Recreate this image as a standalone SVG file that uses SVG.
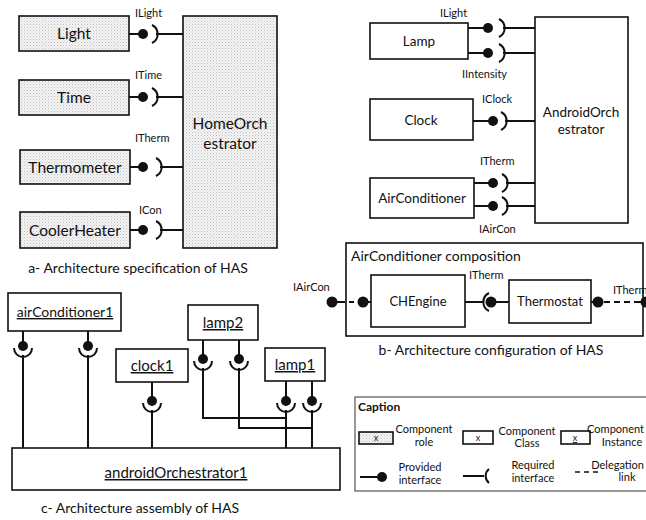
<svg xmlns="http://www.w3.org/2000/svg" width="646" height="520" viewBox="0 0 646 520">
  <defs>
    <pattern id="dots" width="3" height="3" patternUnits="userSpaceOnUse">
      <rect width="3" height="3" fill="#f4f4f4"/>
      <rect width="1" height="1" fill="#bdbdbd"/>
      <rect x="1.5" y="1.5" width="1" height="1" fill="#d0d0d0"/>
    </pattern>
  </defs>
  <style>
    text { font-family: Lato, "Open Sans", "Liberation Sans", sans-serif; fill: #111; }
    .box { fill: #fff; stroke: #111; stroke-width: 1.6; }
    .role { fill: url(#dots); stroke: #111; stroke-width: 1.6; }
    .ln { fill: none; stroke: #111; stroke-width: 2; }
    .dash { fill: none; stroke: #111; stroke-width: 2; stroke-dasharray: 6 4; }
    .ball { fill: #111; }
    .sock { fill: none; stroke: #111; stroke-width: 2; }
    .lbl { font-size: 11px; }
    .name { font-size: 15.5px; text-anchor: middle; }
    .nameb { font-size: 13.5px; text-anchor: middle; }
    .namec { font-size: 15px; text-anchor: middle; }
    .cap { font-size: 14px; text-anchor: middle; }
    .small { font-size: 11px; text-anchor: middle; }
    .u { text-decoration: underline; }
  </style>

  <!-- ===== a: specification ===== -->
  <g id="a-light">
    <rect class="role" x="19" y="16" width="110" height="35"/>
    <text class="name" x="74" y="39">Light</text>
  </g>
  <g id="a-time">
    <rect class="role" x="19" y="80" width="110" height="35"/>
    <text class="name" x="74" y="103">Time</text>
  </g>
  <g id="a-thermometer">
    <rect class="role" x="20" y="150" width="110" height="34"/>
    <text class="name" x="75" y="173">Thermometer</text>
  </g>
  <g id="a-coolerheater">
    <rect class="role" x="20" y="212" width="110" height="36"/>
    <text class="name" x="75" y="236">CoolerHeater</text>
  </g>
  <g id="a-homeorchestrator">
    <rect class="role" x="183" y="16" width="94" height="232"/>
    <text class="name" x="230" y="129">HomeOrch</text>
    <text class="name" x="230" y="149">estrator</text>
  </g>
  <g id="a-connectors">
    <path class="ln" d="M129,34H143 M156,34H183"/>
    <circle class="ball" cx="143" cy="34" r="5"/>
    <path class="sock" d="M152,25A10,10 0 0 1 152,43"/>
    <path class="ln" d="M129,97H143 M156,97H183"/>
    <circle class="ball" cx="143" cy="97" r="5"/>
    <path class="sock" d="M152,88A10,10 0 0 1 152,106"/>
    <path class="ln" d="M130,167H143 M160,167H183"/>
    <circle class="ball" cx="143" cy="167" r="5"/>
    <path class="sock" d="M156,158A10,10 0 0 1 156,176"/>
    <path class="ln" d="M130,230H143 M160,230H183"/>
    <circle class="ball" cx="143" cy="230" r="5"/>
    <path class="sock" d="M156,221A10,10 0 0 1 156,239"/>
  </g>
  <text class="lbl" x="135" y="17">ILight</text>
  <text class="lbl" x="135" y="79">ITime</text>
  <text class="lbl" x="135" y="142">ITherm</text>
  <text class="lbl" x="139" y="214">ICon</text>
  <text class="cap" x="138" y="273">a- Architecture specification of HAS</text>

  <!-- ===== b: configuration ===== -->
  <g id="b-lamp">
    <rect class="box" x="370" y="23" width="98" height="36"/>
    <text class="nameb" x="419" y="46">Lamp</text>
  </g>
  <g id="b-clock">
    <rect class="box" x="370" y="99" width="103" height="41"/>
    <text class="nameb" x="421" y="125">Clock</text>
  </g>
  <g id="b-airconditioner">
    <rect class="box" x="370" y="178" width="104" height="40"/>
    <text class="nameb" x="422" y="203">AirConditioner</text>
  </g>
  <g id="b-androidorchestrator">
    <rect class="box" x="535" y="17" width="93" height="206"/>
    <text class="nameb" x="581" y="117">AndroidOrch</text>
    <text class="nameb" x="581" y="134">estrator</text>
  </g>
  <g id="b-connectors">
    <path class="ln" d="M468,28H488 M503,28H535"/>
    <circle class="ball" cx="488" cy="28" r="5"/>
    <path class="sock" d="M499,19A10,10 0 0 1 499,37"/>
    <path class="ln" d="M468,53H488 M503,53H535"/>
    <circle class="ball" cx="488" cy="53" r="5"/>
    <path class="sock" d="M499,44A10,10 0 0 1 499,62"/>
    <path class="ln" d="M473,121H493 M505,121H535"/>
    <circle class="ball" cx="493" cy="121" r="5"/>
    <path class="sock" d="M501,112A10,10 0 0 1 501,130"/>
    <path class="ln" d="M474,183H493 M506,183H535"/>
    <circle class="ball" cx="493" cy="183" r="5"/>
    <path class="sock" d="M502,174A10,10 0 0 1 502,192"/>
    <path class="ln" d="M474,206H493 M506,206H535"/>
    <circle class="ball" cx="493" cy="206" r="5"/>
    <path class="sock" d="M502,197A10,10 0 0 1 502,215"/>
  </g>
  <text class="lbl" x="440" y="17">ILight</text>
  <text class="lbl" x="462" y="78">IIntensity</text>
  <text class="lbl" x="482" y="103">IClock</text>
  <text class="lbl" x="480" y="165">ITherm</text>
  <text class="lbl" x="479" y="233">IAirCon</text>

  <g id="b-composition">
    <rect class="box" x="346" y="243" width="297" height="93"/>
    <text x="351" y="261" style="font-size:14px">AirConditioner composition</text>
  </g>
  <g id="b-chengine">
    <rect class="box" x="371" y="275" width="94" height="52"/>
    <text x="418" y="306" style="font-size:13px;text-anchor:middle">CHEngine</text>
  </g>
  <g id="b-thermostat">
    <rect class="box" x="509" y="280" width="82" height="43"/>
    <text x="550" y="306" style="font-size:13px;text-anchor:middle">Thermostat</text>
  </g>
  <g id="b-composition-connectors">
    <path class="ln" d="M332,302H345 M358,302H371"/>
    <path class="ln" d="M349,302H354"/>
    <circle class="ball" cx="332" cy="302" r="5.5"/>
    <circle class="ball" cx="363" cy="302" r="5.5"/>
    <path class="ln" d="M465,302H484 M491,302H509"/>
    <path class="sock" d="M489,293A10,10 0 0 0 489,311"/>
    <circle class="ball" cx="491" cy="302" r="5.5"/>
    <path class="ln" d="M591,302H598"/>
    <circle class="ball" cx="598" cy="302" r="5.5"/>
    <path class="dash" d="M604,302H632"/>
    <path class="ln" d="M634,302H645"/>
    <circle class="ball" cx="646" cy="302" r="5.5"/>
  </g>
  <text class="lbl" x="293" y="291">IAirCon</text>
  <text class="lbl" x="469" y="279">ITherm</text>
  <text class="lbl" x="613" y="294">ITherm</text>
  <text class="cap" x="491" y="355">b- Architecture configuration of HAS</text>

  <!-- ===== c: assembly ===== -->
  <g id="c-airconditioner1">
    <rect class="box" x="8" y="293" width="113" height="38"/>
    <text class="namec u" x="65" y="317" style="font-size:14px">airConditioner1</text>
  </g>
  <g id="c-clock1">
    <rect class="box" x="116" y="349" width="72" height="33"/>
    <text class="namec u" x="152" y="371">clock1</text>
  </g>
  <g id="c-lamp2">
    <rect class="box" x="188" y="305" width="70" height="35"/>
    <text class="namec u" x="223" y="328">lamp2</text>
  </g>
  <g id="c-lamp1">
    <rect class="box" x="265" y="348" width="60" height="33"/>
    <text class="namec u" x="295" y="370">lamp1</text>
  </g>
  <g id="c-androidorchestrator1">
    <rect class="box" x="12" y="448" width="328" height="42"/>
    <text class="namec u" x="176" y="478">androidOrchestrator1</text>
  </g>
  <g id="c-connectors">
    <path class="ln" d="M23,331V347 M23,355V448"/>
    <circle class="ball" cx="23" cy="346" r="5"/>
    <path class="sock" d="M14,348A9,9 0 0 0 32,348"/>
    <path class="ln" d="M88,331V347 M88,355V448"/>
    <circle class="ball" cx="88" cy="346" r="5"/>
    <path class="sock" d="M79,348A9,9 0 0 0 97,348"/>
    <path class="ln" d="M152,382V402 M152,410V448"/>
    <circle class="ball" cx="152" cy="401" r="5"/>
    <path class="sock" d="M143,403A9,9 0 0 0 161,403"/>
    <path class="ln" d="M203,340V360 M203,368V418H286"/>
    <circle class="ball" cx="203" cy="359" r="5"/>
    <path class="sock" d="M194,361A9,9 0 0 0 212,361"/>
    <path class="ln" d="M239,340V360 M239,368V428H312"/>
    <circle class="ball" cx="239" cy="359" r="5"/>
    <path class="sock" d="M230,361A9,9 0 0 0 248,361"/>
    <path class="ln" d="M286,381V402 M286,410V448"/>
    <circle class="ball" cx="286" cy="401" r="5"/>
    <path class="sock" d="M277,403A9,9 0 0 0 295,403"/>
    <path class="ln" d="M312,381V402 M312,410V448"/>
    <circle class="ball" cx="312" cy="401" r="5"/>
    <path class="sock" d="M303,403A9,9 0 0 0 321,403"/>
  </g>
  <text class="cap" x="140" y="513">c- Architecture assembly of HAS</text>

  <!-- ===== legend ===== -->
  <g id="legend">
    <rect x="355" y="397" width="300" height="94" fill="#fff" stroke="#555" stroke-width="1.2"/>
    <text x="358" y="411" style="font-size:12px;font-weight:bold">Caption</text>
    <rect class="role" x="359" y="432" width="34" height="12" stroke-width="1.2"/>
    <text class="small" x="376" y="441" style="font-size:9px">x</text>
    <text class="small" x="424" y="433">Component</text>
    <text class="small" x="424" y="446">role</text>
    <rect class="box" x="463" y="431" width="30" height="13" stroke-width="1.2"/>
    <text class="small" x="478" y="441" style="font-size:9px">x</text>
    <text class="small" x="527" y="435">Component</text>
    <text class="small" x="527" y="447">Class</text>
    <rect class="box" x="561" y="431" width="29" height="13" stroke-width="1.2"/>
    <text class="small u" x="575" y="441" style="font-size:9px">x</text>
    <text x="644" y="433" style="font-size:11px;text-anchor:end">Component</text>
    <text class="small" x="622" y="446">Instance</text>
    <path class="ln" d="M360,477H380"/>
    <circle class="ball" cx="382" cy="477" r="5"/>
    <text class="small" x="420" y="471">Provided</text>
    <text class="small" x="420" y="484">interface</text>
    <path class="ln" d="M463,476H484"/>
    <path class="sock" d="M489,469A9,9 0 0 0 489,483"/>
    <text class="small" x="533" y="469">Required</text>
    <text class="small" x="533" y="482">interface</text>
    <path class="dash" d="M575,472H598" style="stroke-width:1.5;stroke-dasharray:5 4"/>
    <text x="644" y="469" style="font-size:11px;text-anchor:end">Delegation</text>
    <text class="small" x="627" y="481">link</text>
  </g>
</svg>
